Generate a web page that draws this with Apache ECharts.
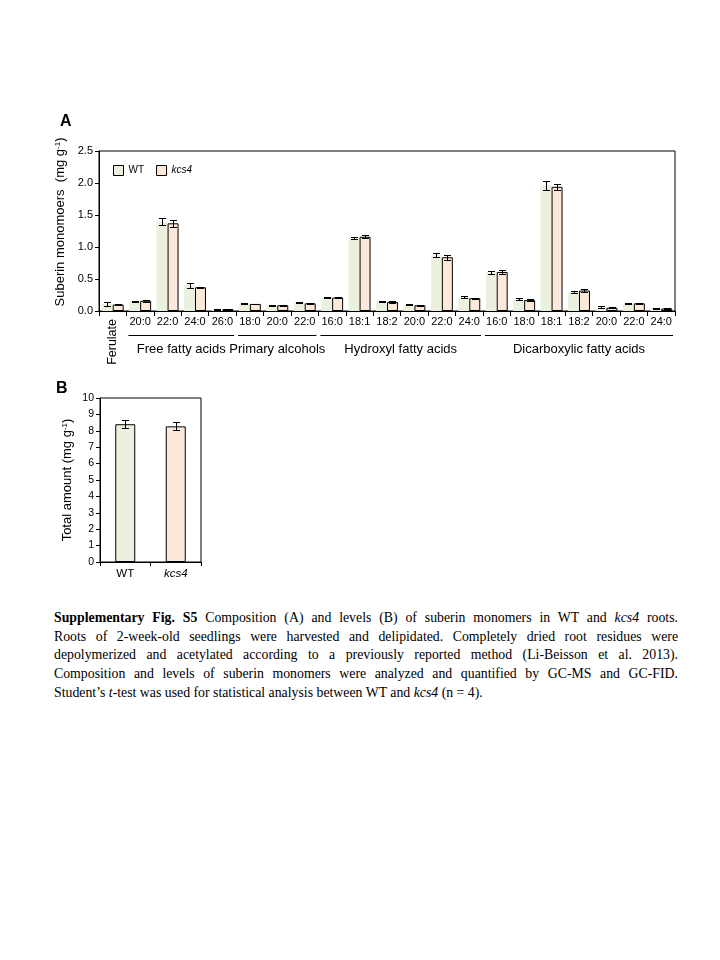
<!DOCTYPE html>
<html><head><meta charset="utf-8">
<script src="https://cdn.jsdelivr.net/npm/echarts@6/dist/echarts.min.js"></script>
<style>
html,body{margin:0;padding:0;background:#fff;}
#chart{position:absolute;left:0;top:0;width:720px;height:600px;}
#cap{position:absolute;left:54px;top:609px;width:624px;font-family:"Liberation Serif","Times New Roman",serif;font-size:13.8px;line-height:18.7px;color:#000;}
#cap div{white-space:nowrap;text-align:justify;text-align-last:justify;}
#cap div.last{text-align-last:left;}
</style></head><body>
<div id="chart"></div>
<div id="cap">
<div><b>Supplementary Fig. S5</b> Composition (A) and levels (B) of suberin monomers in WT and <i>kcs4</i> roots.</div>
<div>Roots of 2-week-old seedlings were harvested and delipidated. Completely dried root residues were</div>
<div>depolymerized and acetylated according to a previously reported method (Li-Beisson et al. 2013).</div>
<div>Composition and levels of suberin monomers were analyzed and quantified by GC-MS and GC-FID.</div>
<div class="last">Student’s <i>t</i>-test was used for statistical analysis between WT and <i>kcs4</i> (n = 4).</div>
</div>
<script>
// ---- data ----
const categoriesA = ['Ferulate','20:0','22:0','24:0','26:0','18:0','20:0','22:0','16:0','18:1','18:2','20:0','22:0','24:0','16:0','18:0','18:1','18:2','20:0','22:0','24:0'];
const wtValues   = [0.11,0.15,1.40,0.40,0.02,0.12,0.09,0.13,0.21,1.14,0.15,0.10,0.88,0.22,0.60,0.19,1.96,0.30,0.06,0.12,0.04];
const wtErrors   = [0.03,0.01,0.06,0.04,0.005,0.01,0.005,0.01,0.005,0.02,0.01,0.01,0.03,0.01,0.02,0.02,0.07,0.02,0.02,0.01,0.005];
const kcs4Values = [0.10,0.16,1.37,0.37,0.03,0.11,0.09,0.12,0.21,1.16,0.14,0.09,0.84,0.20,0.61,0.17,1.94,0.32,0.05,0.12,0.04];
const kcs4Errors = [0.01,0.015,0.05,0.01,0.005,0.005,0.005,0.005,0.005,0.025,0.01,0.005,0.04,0.005,0.03,0.01,0.05,0.02,0.005,0.01,0.005];
const groupNames = ['Free fatty acids','Primary alcohols','Hydroxyl fatty acids','Dicarboxylic fatty acids'];
const groupStart = [1,5,8,14];
const groupEnd   = [4,7,13,20];
const categoriesB = ['WT','kcs4'];
const totalValues = [8.40,8.27];
const totalErrors = [0.25,0.25];

// ---- styles ----
const FONT = '"Liberation Sans", Arial, sans-serif';
const WT_COLOR = '#EBF1DE';
const KCS_COLOR = '#FDE9D9';

function errorRender(sign, frac){
  return function(params, api){
    const x = api.value(0), y = api.value(1), e = api.value(2);
    const band = api.size([1,0])[0];
    const dx = sign * band * frac / 2;
    const top = api.coord([x, y + e]);
    const bot = api.coord([x, y - e]);
    const cx = Math.round(top[0] + dx) + 0.5;
    const t = Math.round(top[1]) + 0.5, b = Math.round(bot[1]) + 0.5;
    const cap = 3.5;
    const st = {stroke:'#000', lineWidth:1};
    return {type:'group', children:[
      {type:'line', shape:{x1:cx, y1:t, x2:cx, y2:b}, style:st},
      {type:'line', shape:{x1:cx-cap, y1:t, x2:cx+cap, y2:t}, style:st},
      {type:'line', shape:{x1:cx-cap, y1:b, x2:cx+cap, y2:b}, style:st}
    ]};
  };
}

const chart = echarts.init(document.getElementById('chart'), null, {renderer:'canvas'});
const option = {
  animation:false,
  textStyle:{fontFamily:FONT, color:'#000'},
  grid:[
    {left:99, top:151, width:576, height:160, show:true, borderColor:'#000', borderWidth:1, backgroundColor:'transparent'},
    {left:100, top:398, width:101, height:164, show:true, borderColor:'#000', borderWidth:1, backgroundColor:'transparent'}
  ],
  legend:{
    left:108, top:160, itemWidth:10, itemHeight:10, itemGap:12, icon:'rect',
    data:[
      {name:'WT', itemStyle:{color:WT_COLOR, borderColor:'#000', borderWidth:1}},
      {name:'kcs4', itemStyle:{color:KCS_COLOR, borderColor:'#000', borderWidth:1}}
    ],
    formatter: n => n === 'kcs4' ? '{i|' + n + '}' : '{n|' + n + '}',
    textStyle:{fontFamily:FONT, fontSize:10, color:'#000',
      rich:{n:{fontFamily:FONT, fontSize:10}, i:{fontFamily:FONT, fontSize:10, fontStyle:'italic'}}}
  },
  xAxis:[
    {type:'category', gridIndex:0, data:categoriesA, boundaryGap:true,
     axisLine:{lineStyle:{color:'#000', width:1}},
     axisTick:{show:true, interval:0, length:5, lineStyle:{color:'#000'}},
     axisLabel:{interval:0, fontFamily:FONT, fontSize:11, color:'#000', margin:5,
       formatter:(v, i) => i === 0 ? '' : v}},
    {type:'category', gridIndex:1, data:categoriesB, boundaryGap:true,
     axisLine:{lineStyle:{color:'#000', width:1}},
     axisTick:{show:true, interval:0, length:4, lineStyle:{color:'#000'}},
     axisLabel:{interval:0, fontFamily:FONT, fontSize:11.5, color:'#000', margin:6,
       formatter: v => v === 'kcs4' ? '{i|' + v + '}' : '{n|' + v + '}',
       rich:{n:{fontFamily:FONT, fontSize:11.5}, i:{fontFamily:FONT, fontSize:11.5, fontStyle:'italic'}}}}
  ],
  yAxis:[
    {type:'value', gridIndex:0, min:0, max:2.5, interval:0.5,
     axisLine:{show:true, lineStyle:{color:'#000'}},
     axisTick:{show:true, length:4, lineStyle:{color:'#000'}},
     splitLine:{show:false},
     axisLabel:{fontFamily:FONT, fontSize:11, color:'#000', margin:6, formatter:v => v.toFixed(1)},
     name:'{t|Suberin monomoers  (mg g}{s|-1}{t|)}', nameLocation:'middle', nameGap:30,
     nameTextStyle:{padding:[0,0,0,18], rich:{t:{fontFamily:FONT, fontSize:13, color:'#000'}, s:{fontFamily:FONT, fontSize:8, color:'#000', verticalAlign:'top'}}}},
    {type:'value', gridIndex:1, min:0, max:10, interval:1,
     axisLine:{show:true, lineStyle:{color:'#000'}},
     axisTick:{show:true, length:4, lineStyle:{color:'#000'}},
     splitLine:{show:false},
     axisLabel:{fontFamily:FONT, fontSize:10.5, color:'#000', margin:6},
     name:'{t|Total amount (mg g}{s|-1}{t|)}', nameLocation:'middle', nameGap:26,
     nameTextStyle:{rich:{t:{fontFamily:FONT, fontSize:13, color:'#000'}, s:{fontFamily:FONT, fontSize:8, color:'#000', verticalAlign:'top'}}}}
  ],
  series:[
    {name:'WT', type:'bar', xAxisIndex:0, yAxisIndex:0, data:wtValues, barGap:'0%', barCategoryGap:'20%',
     itemStyle:{color:WT_COLOR, borderWidth:0}},
    {name:'kcs4', type:'bar', xAxisIndex:0, yAxisIndex:0, data:kcs4Values, barGap:'0%', barCategoryGap:'20%',
     itemStyle:{color:KCS_COLOR, borderColor:'#000', borderWidth:1}},
    {name:'WT err', type:'custom', xAxisIndex:0, yAxisIndex:0, renderItem:errorRender(-1, 0.4),
     data:wtValues.map((v,i)=>[i, v, wtErrors[i]]), z:5},
    {name:'kcs4 err', type:'custom', xAxisIndex:0, yAxisIndex:0, renderItem:errorRender(1, 0.4),
     data:kcs4Values.map((v,i)=>[i, v, kcs4Errors[i]]), z:5},
    {name:'Total', type:'bar', xAxisIndex:1, yAxisIndex:1, barWidth:20,
     data:totalValues.map((v,i)=>({value:v, itemStyle:{color: i === 0 ? WT_COLOR : KCS_COLOR}})),
     itemStyle:{borderColor:'#000', borderWidth:1}},
    {name:'Total err', type:'custom', xAxisIndex:1, yAxisIndex:1, renderItem:errorRender(0, 0),
     data:totalValues.map((v,i)=>[i, v, totalErrors[i]]), z:5}
  ]
};
chart.setOption(option);

// ---- annotations positioned through the axes ----
const gfx = [];
const cx = i => chart.convertToPixel({xAxisIndex:0}, i);
const band = cx(1) - cx(0);
const y0 = chart.convertToPixel({yAxisIndex:0}, 0);
// Ferulate rotated label
gfx.push({type:'text', x:cx(0), y:y0 + 8, rotation:Math.PI/2,
  style:{text:categoriesA[0], font:'12.5px ' + FONT, fill:'#000', align:'right', verticalAlign:'middle'}});
// group brackets and names
groupNames.forEach((g, k) => {
  const xs = cx(groupStart[k]) - band/2 + 2;
  const xe = cx(groupEnd[k]) + band/2 - 2;
  gfx.push({type:'line', shape:{x1:xs, y1:Math.round(y0)+24.5, x2:xe, y2:Math.round(y0)+24.5}, style:{stroke:'#000', lineWidth:1}});
  gfx.push({type:'text', x:(xs+xe)/2, y:y0 + 38, style:{text:g, font:'13px ' + FONT, fill:'#000', align:'center', verticalAlign:'middle'}});
});
// panel letters
gfx.push({type:'text', x:60, y:122, style:{text:'A', font:'bold 16px ' + FONT, fill:'#000', align:'left', verticalAlign:'middle'}});
gfx.push({type:'text', x:56, y:389, style:{text:'B', font:'bold 16px ' + FONT, fill:'#000', align:'left', verticalAlign:'middle'}});
chart.setOption({graphic:gfx});
</script>
</body></html>
